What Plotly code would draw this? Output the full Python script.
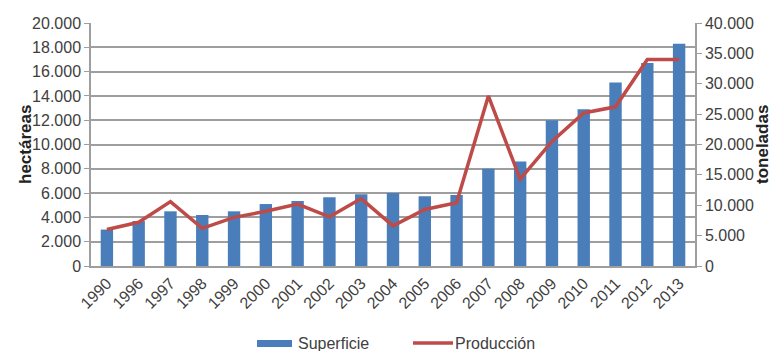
import plotly.graph_objects as go

years = ["1990", "1996", "1997", "1998", "1999", "2000", "2001", "2002", "2003",
         "2004", "2005", "2006", "2007", "2008", "2009", "2010", "2011", "2012", "2013"]

# Superficie (hectáreas)
superficie = [3000, 3700, 4500, 4200, 4500, 5100, 5350, 5650, 5900,
              6000, 5750, 5850, 8000, 8600, 12000, 12900, 15100, 16700, 18300]
# Producción (toneladas)
produccion = [6000, 7200, 10600, 6200, 8000, 9000, 10200, 8100, 11100,
              6600, 9300, 10400, 28000, 14300, 20500, 25200, 26200, 34000, 34000]

left_ticks = list(range(0, 20001, 2000))
right_ticks = list(range(0, 40001, 5000))

BLUE = "#4A7EBB"
RED = "#BE4B48"
GRID = "#9E9E9E"
TXT = "#404040"
FONT = "Liberation Sans, Arial, sans-serif"

fig = go.Figure()
fig.add_trace(go.Bar(x=years, y=superficie, name="Superficie",
                     marker=dict(color=BLUE, line=dict(width=0)), yaxis="y"))
fig.add_trace(go.Scatter(x=years, y=produccion, name="Producción", mode="lines",
                         line=dict(color=RED, width=3.5), yaxis="y2"))

W, H = 784, 351
L, R, T, B = 91, 89, 23, 85
pw, ph = W - L - R, H - T - B

def px_x(x):
    return (x - L) / pw

def px_y(y):
    return (H - B - y) / ph

fig.update_layout(
    width=W, height=H,
    margin=dict(l=L, r=R, t=T, b=B, pad=0),
    paper_bgcolor="white", plot_bgcolor="white",
    separators=",.",
    showlegend=False,
    bargap=0.61,
    font=dict(family=FONT, size=16, color=TXT),
    xaxis=dict(type="category", tickangle=-45, showgrid=False,
               showline=True, linecolor=GRID, linewidth=1.5,
               ticks="", tickfont=dict(size=16, color=TXT)),
    yaxis=dict(range=[0, 20000], tickvals=left_ticks, tickformat=",d",
               showgrid=True, gridcolor=GRID, gridwidth=1.5,
               showline=True, linecolor=GRID, linewidth=1.5,
               ticks="outside", ticklen=5, tickcolor=GRID, zeroline=False,
               tickfont=dict(size=16, color=TXT)),
    yaxis2=dict(range=[0, 40000], tickvals=right_ticks, tickformat=",d",
                overlaying="y", side="right", showgrid=False,
                showline=True, linecolor=GRID, linewidth=1.5,
                ticks="outside", ticklen=5, tickcolor=GRID, zeroline=False,
                tickfont=dict(size=16, color=TXT)),
)

# Axis titles
fig.add_annotation(text="<b>hectáreas</b>", textangle=-90, xref="paper", yref="paper",
                   x=px_x(14), y=0.5, showarrow=False, font=dict(size=17, color="#222"))
fig.add_annotation(text="<b>toneladas</b>", textangle=-90, xref="paper", yref="paper",
                   x=px_x(774), y=0.5, showarrow=False, font=dict(size=17, color="#222"))

# Legend drawn below the plot
ly = px_y(343)
fig.add_shape(type="rect", xref="paper", yref="paper",
              x0=px_x(257), x1=px_x(292), y0=px_y(347), y1=px_y(340),
              fillcolor=BLUE, line=dict(width=0))
fig.add_annotation(text="Superficie", xref="paper", yref="paper", x=px_x(296), y=ly,
                   xanchor="left", yanchor="middle", showarrow=False,
                   font=dict(size=16, color=TXT))
fig.add_shape(type="line", xref="paper", yref="paper",
              x0=px_x(413), x1=px_x(453), y0=ly, y1=ly,
              line=dict(color=RED, width=3.5))
fig.add_annotation(text="Producción", xref="paper", yref="paper", x=px_x(453), y=ly,
                   xanchor="left", yanchor="middle", showarrow=False,
                   font=dict(size=16, color=TXT))

fig.write_html("out.html")
